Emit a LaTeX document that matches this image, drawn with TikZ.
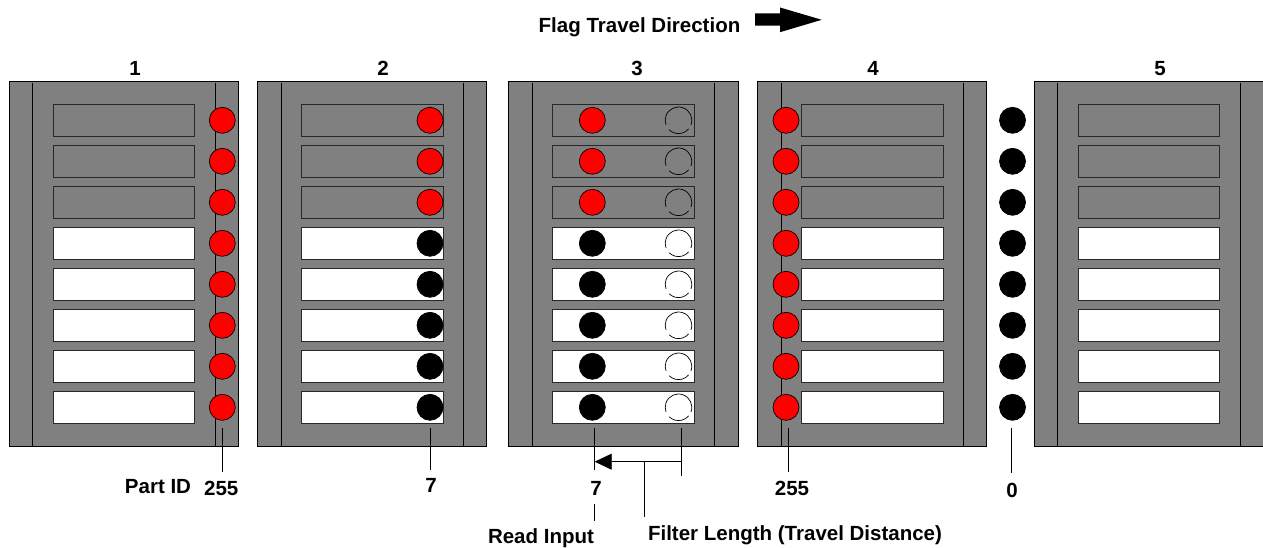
\documentclass[tikz,border=0pt]{standalone}
\usepackage{fontspec}
\setmainfont{Liberation Sans}
\usetikzlibrary{arrows.meta}
\definecolor{panelgray}{RGB}{128,128,128}
\definecolor{flagred}{RGB}{255,0,0}
\definecolor{boxline}{RGB}{40,40,40}
\begin{document}
\begin{tikzpicture}[x=1pt,y=-1pt,
  panel/.style={draw=black,fill=panelgray,line width=0.9pt},
  innerline/.style={draw=black,line width=0.9pt},
  graybox/.style={draw=boxline,fill=panelgray,line width=0.9pt},
  whitebox/.style={draw=boxline,fill=white,line width=0.9pt},
  redflag/.style={circle,draw=black,fill=flagred,line width=0.7pt,minimum size=26pt,inner sep=0pt},
  blackflag/.style={circle,draw=black,fill=black,line width=0.7pt,minimum size=26pt,inner sep=0pt},
  openflag/.style={draw=black,line width=0.7pt},
  lead/.style={draw=black,line width=0.8pt},
  lbl/.style={font=\fontsize{20.5}{22}\selectfont\bfseries,inner sep=0pt,anchor=base},
]
\useasboundingbox (0,0) rectangle (1263,548);

% title
\node[lbl] (title) at (639.5,32.7) {Flag Travel Direction};
\fill[black] (755,13.5) -- (780,13.5) -- (780,7.5) -- (821.7,19.8) -- (780,32.2) -- (780,25.7) -- (755,25.7) -- cycle;

% panels
\foreach \L/\n/\lx in {9/1/135, 257.3/2/383, 508.5/3/637, 757.3/4/873, 1034/5/1160} {
  \draw[panel] (\L,81) rectangle ({\L+229.5},446);
  \draw[innerline] ({\L+23.7},83) -- ({\L+23.7},446);
  \draw[innerline] ({\L+206},83) -- ({\L+206},446);
  \foreach \k in {0,1,2} {
    \draw[graybox] ({\L+44},{104+41*\k}) rectangle ({\L+185.7},{136.5+41*\k});
  }
  \foreach \k in {3,...,7} {
    \draw[whitebox] ({\L+44},{104+41*\k}) rectangle ({\L+185.7},{136.5+41*\k});
  }
  \node[lbl] (plabel\n) at (\lx,75.5) {\n};
}

% flags
\foreach \k in {0,...,7} {
  \node[redflag] (pa\k) at (222.3,{120.3+41*\k}) {};
  \node[redflag] (pd\k) at (786,{120.3+41*\k}) {};
  \node[blackflag] (pe\k) at (1012.5,{120.3+41*\k}) {};
  \draw[openflag] (678.5,{120.3+41*\k}) ++(20:13.3) arc[start angle=20,end angle=-200,radius=13.3];
  \draw[openflag] (678.5,{120.3+41*\k}) ++(-225:13.3) arc[start angle=-225,end angle=-320,radius=13.3];
}
\foreach \k in {0,1,2} {
  \node[redflag] (pb\k) at (430,{120.3+41*\k}) {};
  \node[redflag] (pc\k) at (592.3,{120.3+41*\k}) {};
}
\foreach \k in {3,...,7} {
  \node[blackflag] (pb\k) at (430,{120.3+41*\k}) {};
  \node[blackflag] (pc\k) at (592.3,{120.3+41*\k}) {};
}

% labels
\node[lbl] (partid) at (158,493) {Part ID};
\node[lbl] (n255a) at (221.3,495) {255};
\node[lbl] (n7a) at (431,492.7) {7};
\node[lbl] (n7b) at (596,495) {7};
\node[lbl] (n255b) at (792,495) {255};
\node[lbl] (n0) at (1012,497.5) {0};
\node[lbl] (readin) at (541,543) {Read Input};
\node[lbl] (filt) at (795,540.7) {Filter Length (Travel Distance)};

% leader lines
\coordinate (a1) at (222.3,428); \coordinate (a2) at (222.3,472);
\draw[lead] (a1) -- (a2);
\coordinate (b1) at (430,428); \coordinate (b2) at (430,470);
\draw[lead] (b1) -- (b2);
\coordinate (d1) at (788.7,428); \coordinate (d2) at (788.7,472);
\draw[lead] (d1) -- (d2);
\coordinate (e1) at (1011.7,428); \coordinate (e2) at (1011.7,472.5);
\draw[lead] (e1) -- (e2);

% filter length dimension
\coordinate (c1) at (594.7,428); \coordinate (c2) at (594.7,470);
\coordinate (f1) at (681.7,428); \coordinate (f2) at (681.7,476);
\coordinate (arrS) at (681.7,461.7); \coordinate (arrE) at (594.7,461.7);
\coordinate (m1) at (644.7,461.7); \coordinate (m2) at (644.7,516.7);
\coordinate (r1) at (594.7,504); \coordinate (r2) at (594.7,520.7);
\draw[lead] (c1) -- (c2);
\draw[lead] (f1) -- (f2);
\draw[lead,-{Triangle[length=17pt,width=16pt]}] (arrS) -- (arrE);
\draw[lead] (m1) -- (m2);
\draw[lead] (r1) -- (r2);
\end{tikzpicture}
\end{document}
